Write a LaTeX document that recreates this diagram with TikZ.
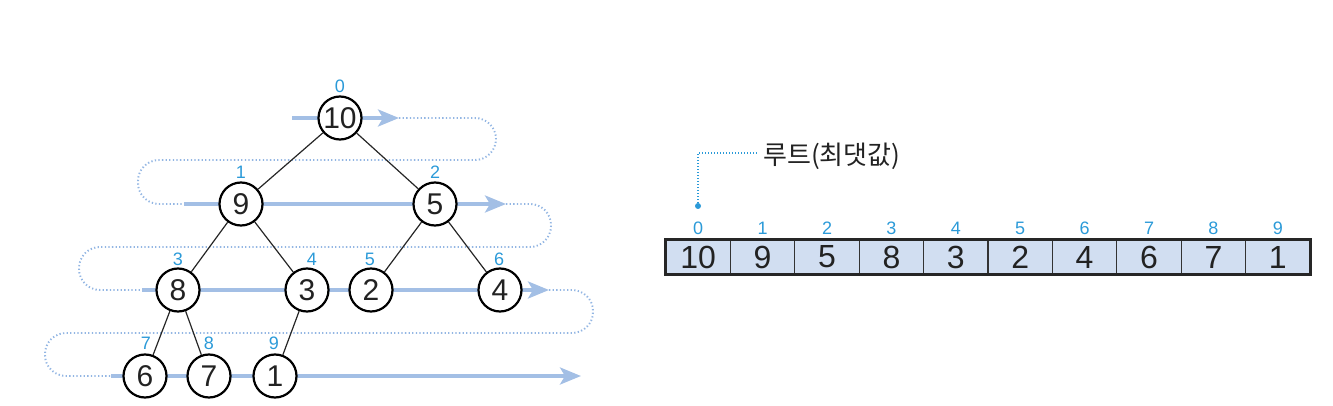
\documentclass[tikz,border=0pt]{standalone}
\usepackage{fontspec}
\setmainfont{Liberation Sans}
\newfontfamily\krfont{Noto Sans CJK KR}
\usetikzlibrary{arrows.meta}
\definecolor{flowblue}{HTML}{A3BFE5}
\definecolor{dotblue}{HTML}{93B6E3}
\definecolor{idxblue}{HTML}{2B9AD8}
\definecolor{cellfill}{HTML}{D1DEF1}
\definecolor{inkgray}{HTML}{222222}
\tikzset{
  treenode/.style={circle,draw=black,line width=2.2pt,fill=white,minimum size=43pt,inner sep=0pt,
    font=\fontsize{30}{30}\selectfont,text=inkgray},
  idx/.style={text=idxblue,inner sep=0pt,font=\fontsize{18}{18}\selectfont},
  edge/.style={draw=black!85,line width=1.2pt},
  flow/.style={draw=flowblue,line width=3.6pt,-{Stealth[length=21pt,width=17pt,inset=5pt]}},
  loop/.style={draw=dotblue,line width=1.9pt,dash pattern=on 1.3pt off 2.3pt,rounded corners=21pt},
  cell/.style={draw=black!80,line width=1.2pt,fill=cellfill,minimum width=64.4pt,minimum height=34pt,
    inner sep=0pt,font=\fontsize{32}{32}\selectfont,text=inkgray},
  note/.style={draw=idxblue,line width=1.5pt,dash pattern=on 1.2pt off 1.8pt}
}
\begin{document}
\begin{tikzpicture}[x=1pt,y=-1pt]
\useasboundingbox (0,0) rectangle (1333,406);
% loop coordinates
\coordinate (s0) at (292,118);
\coordinate (e0) at (399,118);
\coordinate (s1) at (184,204);
\coordinate (e1) at (506,204);
\coordinate (s2) at (142,290);
\coordinate (e2) at (549,290);
\coordinate (s3) at (111,376);
\coordinate (e3) at (581,376);
% dotted loops
\draw[loop] (e0) -- (496,118) -- (496,160) -- (138,160) -- (138,204) -- (s1);
\draw[loop] (e1) -- (551,204) -- (551,247) -- (79,247) -- (79,290) -- (s2);
\draw[loop] (e2) -- (593,290) -- (593,333) -- (45,333) -- (45,376) -- (s3);
% solid flow arrows
\draw[flow] (s0) -- (e0);
\draw[flow] (s1) -- (e1);
\draw[flow] (s2) -- (e2);
\draw[flow] (s3) -- (e3);
% tree nodes
\node[treenode] (n0) at (340,118) {10};
\node[treenode] (n1) at (241,204) {9};
\node[treenode] (n2) at (435,204) {5};
\node[treenode] (n3) at (178,290) {8};
\node[treenode] (n4) at (307,290) {3};
\node[treenode] (n5) at (371,290) {2};
\node[treenode] (n6) at (500,290) {4};
\node[treenode] (n7) at (145,376) {6};
\node[treenode] (n8) at (209,376) {7};
\node[treenode] (n9) at (275,376) {1};
% edges
\draw[edge] (n0) -- (n1);
\draw[edge] (n0) -- (n2);
\draw[edge] (n1) -- (n3);
\draw[edge] (n1) -- (n4);
\draw[edge] (n2) -- (n5);
\draw[edge] (n2) -- (n6);
\draw[edge] (n3) -- (n7);
\draw[edge] (n3) -- (n8);
\draw[edge] (n4) -- (n9);
% index labels
\node[idx] (t0) at (340,86) {0};
\node[idx] (t1) at (241,172) {1};
\node[idx] (t2) at (435,172) {2};
\node[idx] (t3) at (178,259) {3};
\node[idx] (t4) at (312,259) {4};
\node[idx] (t5) at (370,259) {5};
\node[idx] (t6) at (499,259) {6};
\node[idx] (t7) at (146,343) {7};
\node[idx] (t8) at (209,343) {8};
\node[idx] (t9) at (274,343) {9};
% array
\foreach \i/\v in {0/10,1/9,2/5,3/8,4/3,5/2,6/4,7/6,8/7,9/1}{
  \node[cell] (a\i) at ({666+64.4*(\i+0.5)},257) {\v};
  \node[idx] (b\i) at ({666+64.4*(\i+0.5)},228) {\i};
}
\draw[black!85,line width=3.6pt] (a0.north west) rectangle (a9.south east);
% root annotation
\coordinate (dot) at (698,206);
\coordinate (bend) at (698,153);
\coordinate (tip) at (757,153);
\draw[note] (dot) -- (bend) -- (tip);
\fill[idxblue] (dot) circle (3pt);
\node[anchor=west,inner sep=0pt,text=inkgray,font=\krfont\fontsize{26}{26}\selectfont] (root) at (763,156) {루트(최댓값)};
\end{tikzpicture}
\end{document}
